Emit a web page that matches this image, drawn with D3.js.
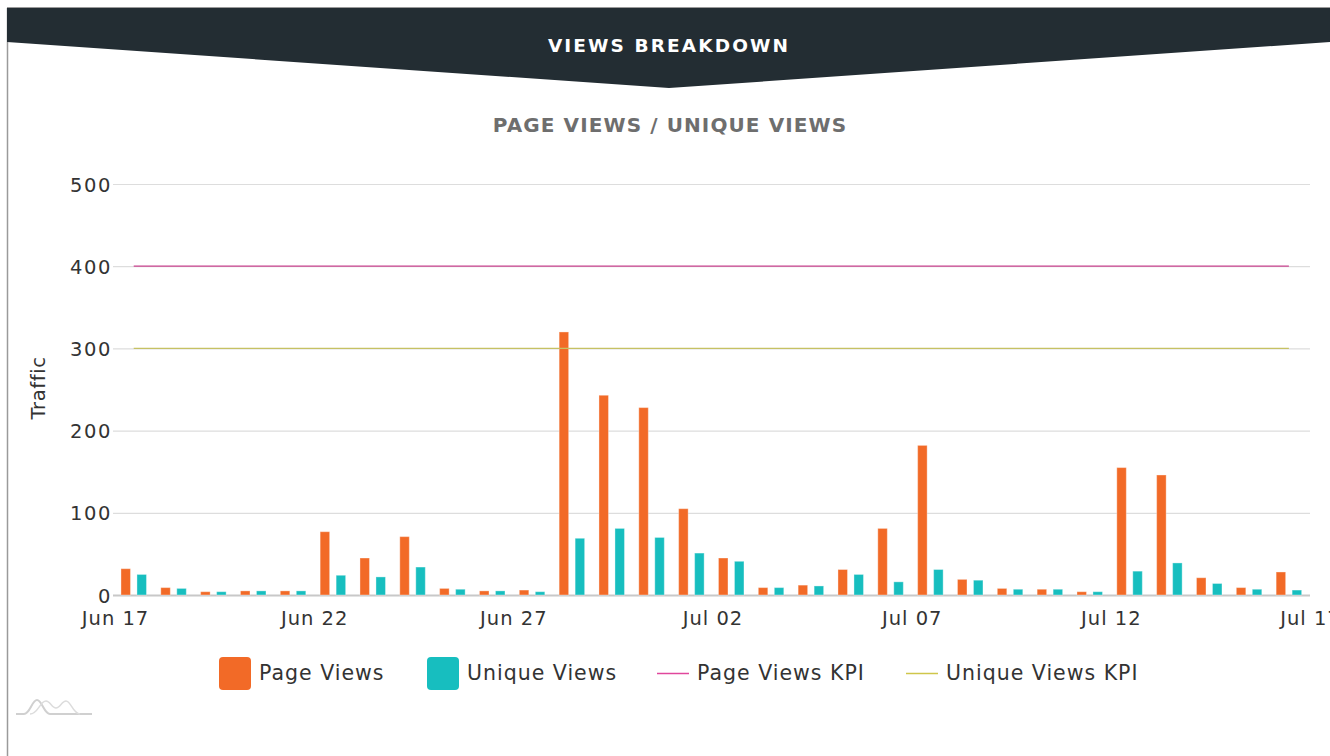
<!DOCTYPE html>
<html><head><meta charset="utf-8">
<script src="https://cdn.jsdelivr.net/npm/d3@7"></script>
<style>
html,body{margin:0;padding:0;background:#fff;overflow:hidden}
svg{display:block}
text{font-family:"DejaVu Sans",sans-serif}
</style></head>
<body><svg id="c" width="1330" height="756"></svg>
<script>
// ---- data ----
const dates = ["2017-06-17","2017-06-18","2017-06-19","2017-06-20","2017-06-21","2017-06-22","2017-06-23","2017-06-24","2017-06-25","2017-06-26","2017-06-27","2017-06-28","2017-06-29","2017-06-30","2017-07-01","2017-07-02","2017-07-03","2017-07-04","2017-07-05","2017-07-06","2017-07-07","2017-07-08","2017-07-09","2017-07-10","2017-07-11","2017-07-12","2017-07-13","2017-07-14","2017-07-15","2017-07-16"];
const pageViews   = [32,9,4,5,5,77,45,71,8,5,6,320,243,228,105,45,9,12,31,81,182,19,8,7,4,155,146,21,9,28];
const uniqueViews = [25,8,4,5,5,24,22,34,7,5,4,69,81,70,51,41,9,11,25,16,31,18,7,7,4,29,39,14,7,6];
const pageViewsKPI = 400;
const uniqueViewsKPI = 300;
const yTicks = [0,100,200,300,400,500];
const xTickDates = ["2017-06-17","2017-06-22","2017-06-27","2017-07-02","2017-07-07","2017-07-12","2017-07-17"];
const seriesNames = ["Page Views","Unique Views","Page Views KPI","Unique Views KPI"];
const colors = {pv:"#f26a27", uv:"#17bebf", pvk:"#c8428e", uvk:"#c6c164"};

const parse = d3.timeParse("%Y-%m-%d");
const svg = d3.select("#c");

// ---- frame / header ----
svg.append("line").attr("x1",7.5).attr("x2",7.5).attr("y1",8).attr("y2",756).attr("stroke","#9a9a9a").attr("stroke-width",1.5);
svg.append("line").attr("x1",7).attr("x2",1330).attr("y1",7.5).attr("y2",7.5).attr("stroke","#9a9a9a").attr("stroke-width",1);
svg.append("path").attr("d","M7,8 L1330,8 L1330,42 L669,88 L7,42 Z").attr("fill","#232d33");
svg.append("text").attr("x",669).attr("y",52).attr("text-anchor","middle").attr("fill","#fff")
  .attr("font-size",18.5).attr("font-weight","bold").attr("letter-spacing",2.1).text("VIEWS BREAKDOWN");
svg.append("text").attr("x",670).attr("y",132).attr("text-anchor","middle").attr("fill","#6e6e6e")
  .attr("font-size",20).attr("font-weight","bold").attr("letter-spacing",1.1).text("PAGE VIEWS / UNIQUE VIEWS");

// ---- scales ----
const x0 = 115, x1 = 1310, yTop = 184, yBot = 595;
const x = d3.scaleTime().domain([parse("2017-06-17"), parse("2017-07-17")]).range([x0, x1]);
const y = d3.scaleLinear().domain([0,500]).range([yBot, yTop]);
const dayW = x(parse("2017-06-18")) - x(parse("2017-06-17"));
const inner = d3.scaleBand().domain(["pv","uv"]).range([dayW*0.15, dayW*0.79]).paddingInner(0.406).paddingOuter(0);

const txt = "#333";
const fw = "normal";

// grid
const g = svg.append("g");
g.selectAll("line.grid").data(yTicks).join("line")
  .attr("x1",113).attr("x2",x1).attr("y1",d=>y(d)+0.5).attr("y2",d=>y(d)+0.5)
  .attr("stroke",d=>d===0?"#c8c8c8":"#dddddd").attr("stroke-width",d=>d===0?2:1.2);

// y axis labels
const yAxis = d3.axisLeft(y).tickValues(yTicks).tickSize(0).tickPadding(0);
const ya = svg.append("g").attr("transform",`translate(112,0)`).call(yAxis);
ya.select(".domain").remove();
ya.selectAll("text").attr("font-family","DejaVu Sans").attr("font-size",19.5).attr("fill",txt).attr("font-weight",fw)
  .attr("letter-spacing",1.6).attr("dy","0.36em");

// x axis labels
const xAxis = d3.axisBottom(x).tickValues(xTickDates.map(parse)).tickFormat(d3.timeFormat("%b %d")).tickSize(0).tickPadding(0);
const xa = svg.append("g").attr("transform",`translate(0,${yBot})`).call(xAxis);
xa.select(".domain").remove();
xa.selectAll("text").attr("font-family","DejaVu Sans").attr("font-size",19.5).attr("fill",txt).attr("font-weight",fw)
  .attr("letter-spacing",1).attr("dy","1.55em")
  .text(function(d){const s=d3.timeFormat("%b %d")(d); return s.replace(/^Jun 0/,"Jun ");});

// y title
svg.append("text").attr("transform","translate(45,388) rotate(-90)").attr("text-anchor","middle")
  .attr("font-size",19.5).attr("fill",txt).attr("font-weight",fw).attr("letter-spacing",0.6).text("Traffic");

// bars
const rows = dates.map((d,i)=>({date:parse(d), pv:pageViews[i], uv:uniqueViews[i]}));
const bars = svg.append("g");
["pv","uv"].forEach(k=>{
  bars.selectAll("rect."+k).data(rows).join("rect").attr("class",k)
    .attr("x",d=>x(d.date)+inner(k)).attr("width",inner.bandwidth())
    .attr("y",d=>y(d[k])).attr("height",d=>yBot-y(d[k]))
    .attr("fill",colors[k]).attr("stroke","rgba(255,255,255,0.35)").attr("stroke-width",1);
});

// KPI lines
const center = dayW*0.47;
const line = d3.line().x(d=>x(d.date)+center).y(d=>y(d.v));
svg.append("path").datum(rows.map(r=>({date:r.date,v:pageViewsKPI}))).attr("d",line)
  .attr("fill","none").attr("stroke",colors.pvk).attr("stroke-width",1.3);
svg.append("path").datum(rows.map(r=>({date:r.date,v:uniqueViewsKPI}))).attr("d",line)
  .attr("fill","none").attr("stroke",colors.uvk).attr("stroke-width",1.3);

// legend
const leg = svg.append("g");
const legItems = [
  {name:seriesNames[0], type:"rect", c:colors.pv, x:219},
  {name:seriesNames[1], type:"rect", c:colors.uv, x:427},
  {name:seriesNames[2], type:"line", c:"#e0479c", x:657},
  {name:seriesNames[3], type:"line", c:"#cfc64a", x:906}
];
legItems.forEach(it=>{
  if(it.type==="rect"){
    leg.append("rect").attr("x",it.x).attr("y",657).attr("width",32).attr("height",33).attr("rx",4).attr("fill",it.c);
  } else {
    leg.append("line").attr("x1",it.x).attr("x2",it.x+32).attr("y1",673.5).attr("y2",673.5).attr("stroke",it.c).attr("stroke-width",1.5);
  }
  leg.append("text").attr("x",it.x+40).attr("y",680).attr("font-size",20.5).attr("fill",txt).attr("font-weight",fw)
    .attr("letter-spacing",1.0).text(it.name);
});

// logo
svg.append("path").attr("d","M16,714 L24,714 C30,714 32,700 37,700 C42,700 44,714 50,714 L92,714")
  .attr("fill","none").attr("stroke","#d0d0d0").attr("stroke-width",2);
svg.append("path").attr("d","M30,714 C38,714 40,701 46,701 C50,701 52,708 56,708 C60,708 62,701 66,701 C71,701 73,714 80,714")
  .attr("fill","none").attr("stroke","#dcdcdc").attr("stroke-width",1.5);
</script>
</body></html>
